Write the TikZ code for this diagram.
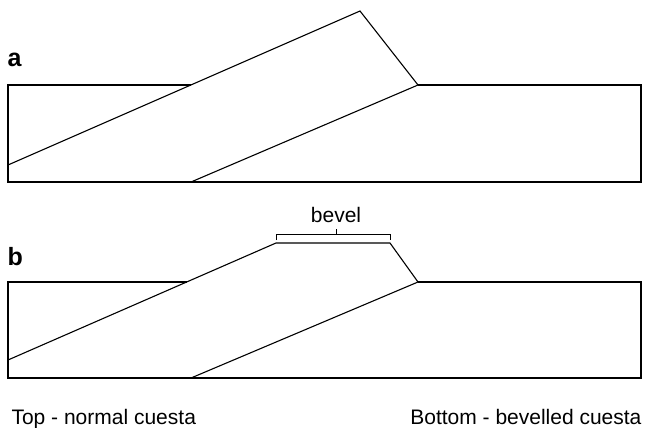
\documentclass[tikz,border=0pt]{standalone}
\usepackage{fontspec}
\setmainfont{Liberation Sans}
\usetikzlibrary{positioning}
\definecolor{kesit}{HTML}{000000}

\begin{document}
\begin{tikzpicture}[x=1pt,y=-1pt,line width=1.1pt,line join=miter]
\useasboundingbox (0,0) rectangle (646,428);
\tikzset{
  etiket/.style={font=\fontsize{25}{25}\selectfont\bfseries,anchor=base west,inner sep=0pt},
  yazi/.style={font=\fontsize{21}{21}\selectfont,inner sep=0pt}
}
% a: normal cuesta
\draw[kesit] (191,85)--(8,85)--(8,182)--(641,182)--(641,85)--(418,85);
\draw[kesit] (8,165)--(360,11)--(418,85)--(191,182);
\node[etiket] (etiketA) at (7,67) {a};
% b: bevelled cuesta
\draw[kesit] (187,282)--(8,282)--(8,378)--(641,378)--(641,282)--(418,282);
\draw[kesit] (8,360)--(276,243)--(390,243)--(418,282)--(191,378);
\node[etiket] (etiketB) at (7,265) {b};
% bevel bracket
\draw[kesit,line width=0.9pt] (276,240)--(276,234)--(390,234)--(390,240);
\draw[kesit,line width=0.9pt] (336,234)--(336,229);
\node[yazi,anchor=base] (bevel) at (336,222) {bevel};
% captions
\node[yazi,anchor=base west] (ustYazi) at (11,424) {Top - normal cuesta};
\node[yazi,anchor=base east] (altYazi) at (642,424) {Bottom - bevelled cuesta};
\end{tikzpicture}
\end{document}
